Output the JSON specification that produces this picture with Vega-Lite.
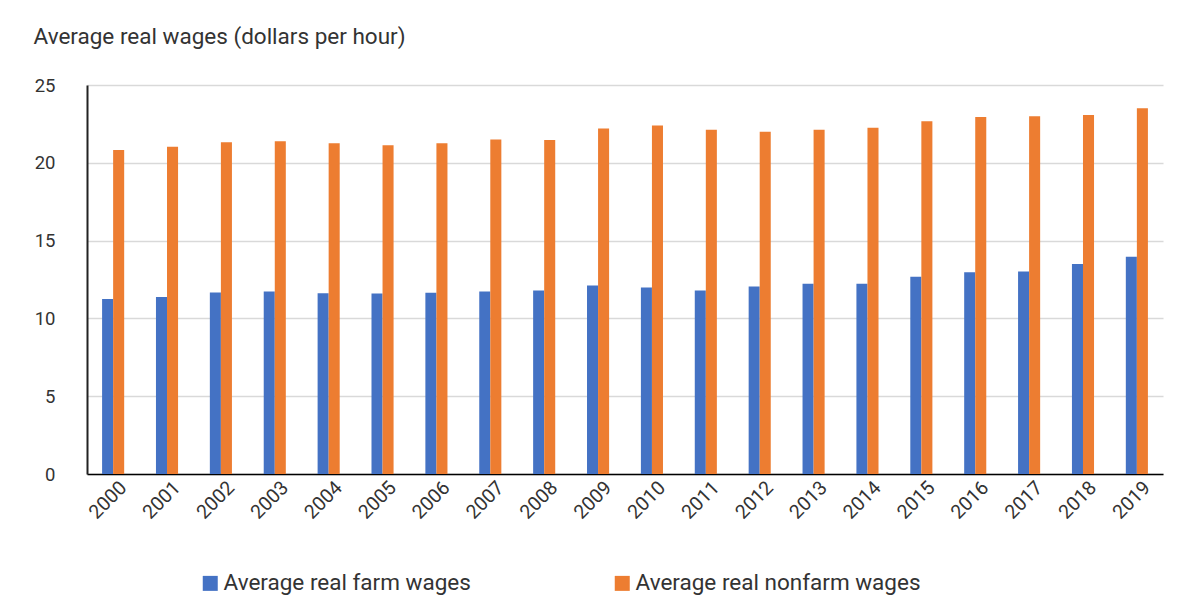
{
  "$schema": "https://vega.github.io/schema/vega-lite/v6.json",
  "width": 1076,
  "height": 389,
  "autosize": {"type": "none"},
  "padding": {"left": 87, "top": 85, "right": 21, "bottom": 137},
  "background": "white",
  "data": {
    "values": [
      {"year": "2000", "farm": 11.24, "nonfarm": 20.83},
      {"year": "2001", "farm": 11.37, "nonfarm": 21.03},
      {"year": "2002", "farm": 11.67, "nonfarm": 21.32},
      {"year": "2003", "farm": 11.73, "nonfarm": 21.39},
      {"year": "2004", "farm": 11.62, "nonfarm": 21.26},
      {"year": "2005", "farm": 11.60, "nonfarm": 21.13},
      {"year": "2006", "farm": 11.65, "nonfarm": 21.26},
      {"year": "2007", "farm": 11.73, "nonfarm": 21.50},
      {"year": "2008", "farm": 11.79, "nonfarm": 21.47},
      {"year": "2009", "farm": 12.12, "nonfarm": 22.20},
      {"year": "2010", "farm": 11.99, "nonfarm": 22.39},
      {"year": "2011", "farm": 11.79, "nonfarm": 22.12},
      {"year": "2012", "farm": 12.05, "nonfarm": 21.99},
      {"year": "2013", "farm": 12.22, "nonfarm": 22.12},
      {"year": "2014", "farm": 12.22, "nonfarm": 22.26},
      {"year": "2015", "farm": 12.67, "nonfarm": 22.67},
      {"year": "2016", "farm": 12.97, "nonfarm": 22.95},
      {"year": "2017", "farm": 13.01, "nonfarm": 22.99},
      {"year": "2018", "farm": 13.50, "nonfarm": 23.08},
      {"year": "2019", "farm": 13.97, "nonfarm": 23.50}
    ]
  },
  "transform": [
    {"fold": ["farm", "nonfarm"], "as": ["key", "wage"]},
    {"lookup": "key", "from": {"data": {"values": [
      {"key": "farm", "series": "Average real farm wages"},
      {"key": "nonfarm", "series": "Average real nonfarm wages"}
    ]}, "key": "key", "fields": ["series"]}}
  ],
  "mark": {"type": "bar"},
  "encoding": {
    "x": {
      "field": "year",
      "type": "nominal",
      "scale": {"paddingInner": 0.59, "paddingOuter": 0.28},
      "axis": {
        "title": null,
        "labelAngle": -45,
        "labelFont": "Roboto",
        "labelFontSize": 19.5,
        "labelColor": "#333333",
        "labelPadding": 4,
        "labelOffset": 4,
        "ticks": false,
        "domainColor": "#000000",
        "domainWidth": 1.5,
        "grid": false
      }
    },
    "xOffset": {
      "field": "series",
      "type": "nominal",
      "scale": {"domain": ["Average real farm wages", "Average real nonfarm wages"], "paddingInner": 0, "paddingOuter": 0}
    },
    "y": {
      "field": "wage",
      "type": "quantitative",
      "scale": {"domain": [0, 25], "nice": false},
      "axis": {
        "title": "Average real wages (dollars per hour)",
        "titleAngle": 0,
        "titleAlign": "left",
        "titleBaseline": "alphabetic",
        "titleX": -54,
        "titleY": -42,
        "titleFont": "Roboto",
        "titleFontSize": 22.5,
        "titleFontWeight": "normal",
        "titleColor": "#333333",
        "values": [0, 5, 10, 15, 20, 25],
        "labelFont": "Roboto",
        "labelFontSize": 18.5,
        "labelColor": "#333333",
        "labelPadding": 32,
        "ticks": false,
        "domainColor": "#222222",
        "domainWidth": 2,
        "gridColor": "#d9d9d9",
        "gridWidth": 1.5
      }
    },
    "color": {
      "field": "series",
      "type": "nominal",
      "scale": {"domain": ["Average real farm wages", "Average real nonfarm wages"], "range": ["#4472C4", "#ED7D31"]},
      "legend": {
        "title": null,
        "orient": "none",
        "direction": "horizontal",
        "columns": 2,
        "columnPadding": 140,
        "legendX": 112,
        "legendY": 487,
        "symbolType": "square",
        "symbolSize": 225,
        "symbolStrokeWidth": 0,
        "labelFont": "Roboto",
        "labelFontSize": 22.5,
        "labelLimit": 500,
        "labelColor": "#333333",
        "labelOffset": 2
      }
    }
  },
  "config": {
    "view": {"stroke": null}
  }
}
